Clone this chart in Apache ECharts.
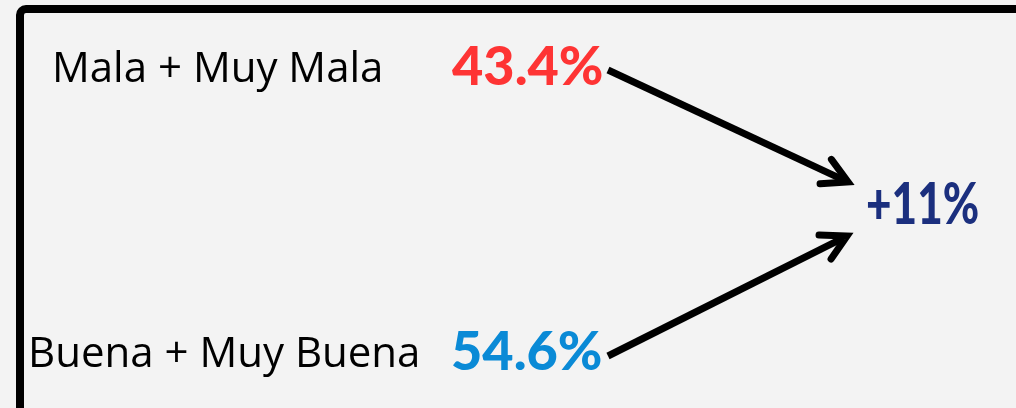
<!DOCTYPE html>
<html>
<head>
<meta charset="utf-8">
<script src="https://cdn.jsdelivr.net/npm/echarts@6/dist/echarts.min.js"></script>
<style>
  html, body { margin: 0; padding: 0; background: #f3f3f3; }
  #main { width: 1016px; height: 408px; }
</style>
</head>
<body>
<div id="main"></div>
<script>
// datos
var categorias = ['Mala + Muy Mala', 'Buena + Muy Buena'];
var valores = [43.4, 54.6];
var colores = ['#fe3434', '#0a8ad6'];
var cambio = ['+11%'];

var myChart = echarts.init(document.getElementById('main'));

// posiciones de cada fila (etiqueta a la izquierda, porcentaje al centro)
var filas = [
    { labelX: 52, pctX: 452, y: 68, tipX: 848, tipY: 182, startY: 70 },
    { labelX: 28, pctX: 451, y: 353, tipX: 847, tipY: 236, startY: 356 }
];

function flecha(x0, y0, x1, y1) {
    var ang = Math.atan2(y1 - y0, x1 - x0);
    var len = 28, ab = 0.5;
    var p1 = [x1 - len * Math.cos(ang - ab), y1 - len * Math.sin(ang - ab)];
    var p2 = [x1 - len * Math.cos(ang + ab), y1 - len * Math.sin(ang + ab)];
    return [
        { type: 'line', shape: { x1: x0, y1: y0, x2: x1 - 4 * Math.cos(ang), y2: y1 - 4 * Math.sin(ang) },
          style: { stroke: '#000', lineWidth: 7 } },
        { type: 'polyline', shape: { points: [p1, [x1, y1], p2] },
          style: { stroke: '#000', fill: null, lineWidth: 7, lineCap: 'round', lineJoin: 'miter' } }
    ];
}

var elementos = [
    { type: 'rect', shape: { x: 20, y: 9, width: 1100, height: 500, r: 6 },
      style: { fill: '#f3f3f3', stroke: '#000', lineWidth: 8 } }
];

categorias.forEach(function (c, i) {
    var f = filas[i];
    elementos.push({ type: 'text', x: f.labelX, y: f.y + 2,
        style: { text: c, fill: '#000', font: '42px "Open Sans"', verticalAlign: 'middle' } });
    elementos.push({ type: 'text', x: f.pctX, y: f.y,
        style: { text: valores[i].toFixed(1) + '%', fill: colores[i], font: '900 54px Lato', verticalAlign: 'middle' } });
    elementos = elementos.concat(flecha(608, f.startY, f.tipX, f.tipY));
});

elementos.push({ type: 'text', x: 866, y: 205, scaleX: 0.76,
    style: { text: cambio[0], fill: '#1b2f7e', font: '900 58px Lato', verticalAlign: 'middle' } });

option = {
    backgroundColor: '#f3f3f3',
    animation: false,
    graphic: { elements: elementos }
};

myChart.setOption(option);
</script>
</body>
</html>
